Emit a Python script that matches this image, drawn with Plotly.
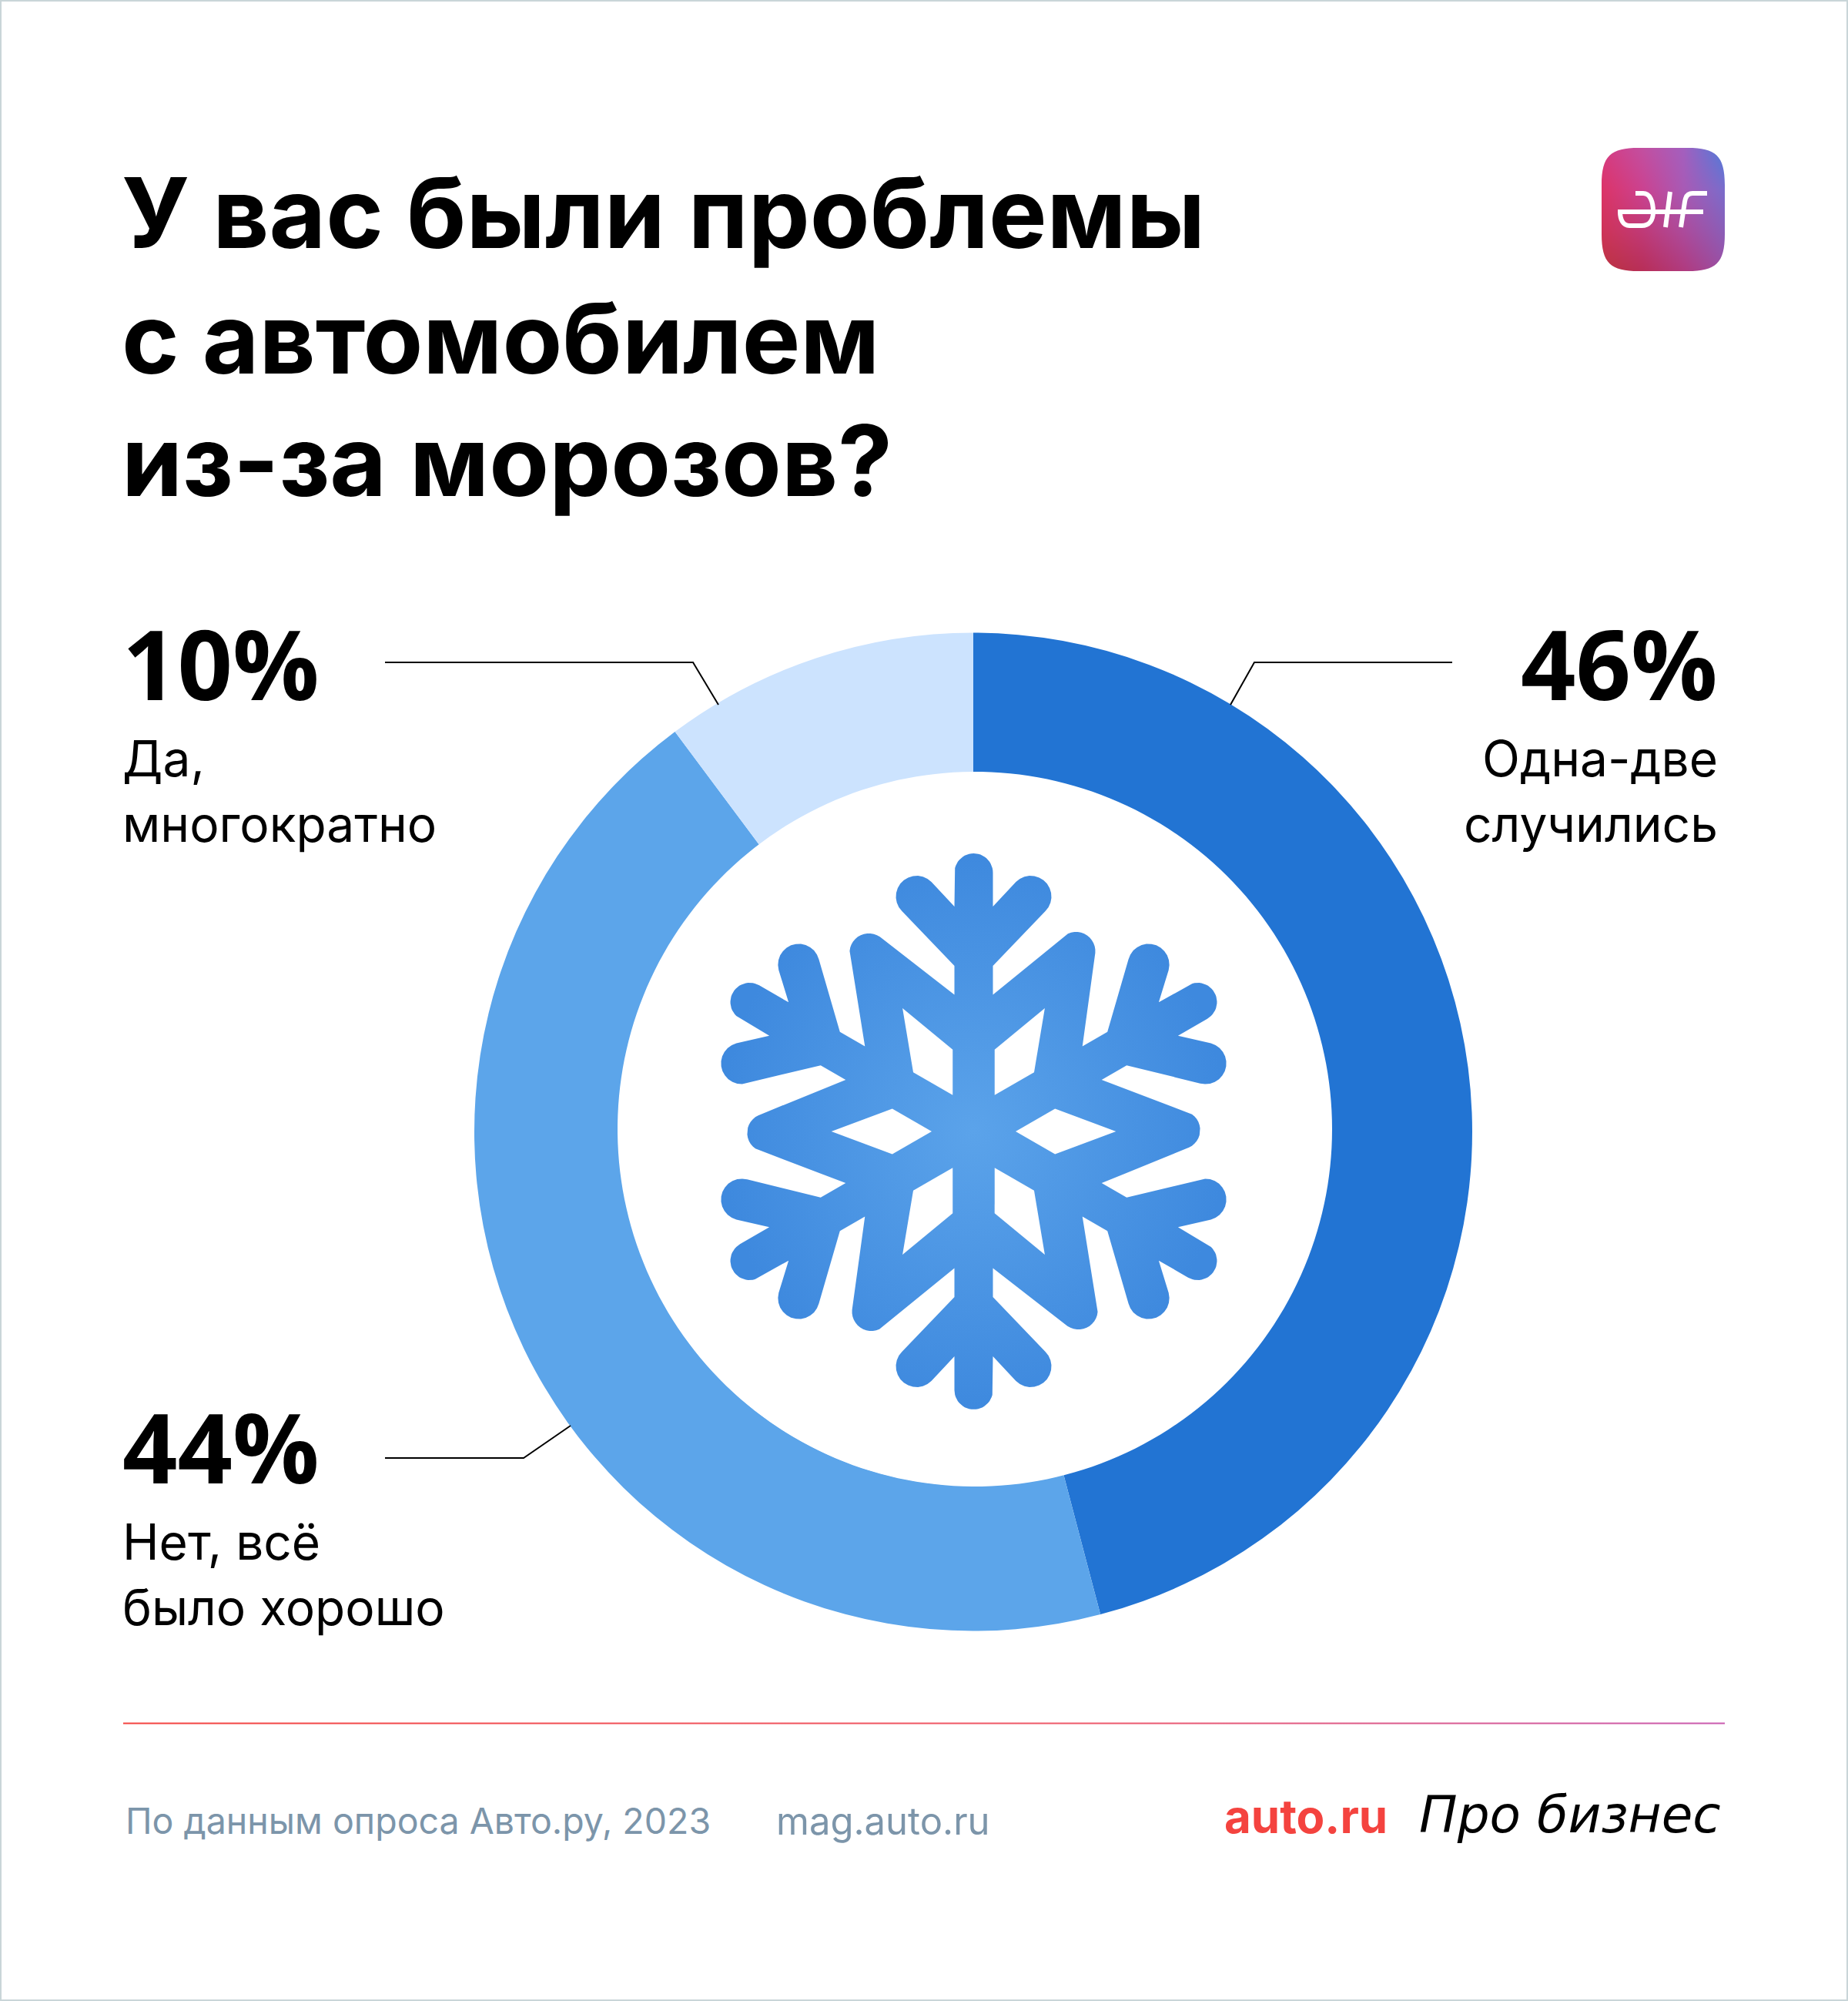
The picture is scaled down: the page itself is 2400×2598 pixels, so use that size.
import numpy as np
import plotly.graph_objects as go

# survey data
categories = ["Одна-две случились", "Нет, всё было хорошо", "Да, многократно"]
values = [45.9, 43.9, 10.2]
percent_labels = ["46%", "44%", "10%"]
ring_colors = ["#2274D3", "#5CA5EA", "#CCE3FE"]

title_lines = ["У вас были проблемы", "с автомобилем", "из-за морозов?"]
title_y = [276, 439, 598]
footer_source = "По данным опроса Авто.ру, 2023"
footer_site = "mag.auto.ru"

# logo colours, top row first
logo_colors = [["#D63B82", "#C24FA0", "#A35FBE", "#4E7BDA"],
               ["#DC3468", "#CB4290", "#A85AB5", "#7A6CCB"],
               ["#CF3358", "#C03A78", "#AC4B9C", "#8A5EB8"],
               ["#BB3340", "#B82E58", "#B03A7E", "#9A4FA4"]]

W, H = 2400, 2598
CX, CY = 1264, 1469.5
R_OUT = 648
R_HOLE = 459.7

fig = go.Figure()

# logo gradient, corners get masked below
grid = np.array([[[int(c[i:i + 2], 16) for i in (1, 3, 5)] for c in row] for row in logo_colors], dtype=float)
u = np.linspace(0, 3, 160)
iu = np.minimum(u.astype(int), 2)
fu = (u - iu)[:, None, None]
tmp = grid[iu] * (1 - fu) + grid[iu + 1] * fu
fv = (u - iu)[None, :, None]
logo_rgb = (tmp[:, iu] * (1 - fv) + tmp[:, iu + 1] * fv).round().astype(np.uint8)
fig.add_trace(go.Image(z=logo_rgb, x0=2080.5, y0=192.5, dx=1, dy=1, hoverinfo="skip"))


def arc(cx, cy, r, a0, a1, n=14):
    a = np.radians(np.linspace(a0, a1, n))
    return list(zip(cx + r * np.cos(a), cy + r * np.sin(a)))


def rot(pts, deg):
    # clockwise rotation, y up
    t = np.radians(deg)
    return [(x * np.cos(t) + y * np.sin(t), -x * np.sin(t) + y * np.cos(t)) for x, y in pts]


# one half arm of the snowflake, the rest comes from symmetry
half_arm = arc(0, 336, 25, 90, 0) + [(25, 292)] + arc(74, 305, 27, 135, -45) + [(25, 215), (25, 177.5)]
left_arm = [(-x, y) for x, y in reversed(half_arm)]
peak = arc(133, 234, 25, 125, -5)
sector = half_arm + peak + rot(left_arm, 60)
outline = []
for k in range(6):
    outline += rot(sector, 60 * k)
outline.append(outline[0])
fig.add_trace(go.Scatter(x=[1264.5 + p[0] for p in outline], y=[1469 - p[1] for p in outline],
                         mode="lines", line=dict(width=0), fill="toself",
                         fillgradient=dict(type="radial", colorscale=[[0, "#5BA3EA"], [1, "#3E89DE"]]),
                         hoverinfo="skip"))

kite = [(54.5, 0), (105.7, 29.6), (184.8, 0), (105.7, -29.6), (54.5, 0)]
for k in range(6):
    hole = rot(kite, 60 * k)
    fig.add_trace(go.Scatter(x=[1264.5 + p[0] for p in hole], y=[1469 - p[1] for p in hole],
                             mode="lines", line=dict(width=0), fill="toself",
                             fillcolor="white", hoverinfo="skip"))

# divider with gradient
fig.add_trace(go.Scatter(x=[160, 2240, 2240, 160, 160], y=[2236.5, 2236.5, 2238.5, 2238.5, 2236.5],
                         mode="lines", line=dict(width=0), fill="toself",
                         fillgradient=dict(type="horizontal",
                                           colorscale=[[0, "#F4433F"], [0.6, "#EE5A6A"], [1, "#C95CB0"]]),
                         hoverinfo="skip"))

# the ring
fig.add_trace(go.Pie(labels=categories, values=values, sort=False, direction="clockwise", rotation=0,
                     hole=R_HOLE / R_OUT, marker=dict(colors=ring_colors, line=dict(width=0)),
                     textinfo="none", hoverinfo="skip",
                     domain=dict(x=[(CX - R_OUT) / W, (CX + R_OUT) / W],
                                 y=[1 - (CY + R_OUT) / H, 1 - (CY - R_OUT) / H])))


def circle_path(cx, cy, r):
    pts = arc(cx, cy, r, 0, 360, 240)
    return "M" + " L".join(f"{x:.2f},{y:.2f}" for x, y in pts) + " Z"


shapes = [
    dict(type="rect", x0=1, y0=1, x1=W - 1, y1=H - 1, line=dict(color="#C9D5D8", width=2), layer="above"),
    # the hole of the ring sits a little off centre in the picture
    dict(type="path", path=circle_path(1266, 1466, 464) + " " + circle_path(CX, CY, R_HOLE - 3),
         fillcolor="white", line=dict(width=0), layer="above"),
    # logo corners
    dict(type="path", path="M2074,186 H2246 V358 H2074 Z M2080,240 C2080,202 2092,192 2128,192 L2192,192 "
                           "C2228,192 2240,202 2240,240 L2240,304 C2240,342 2228,352 2192,352 L2128,352 "
                           "C2092,352 2080,342 2080,304 Z",
         fillcolor="white", line=dict(width=0), layer="above"),
    # logo glyphs
    dict(type="path", path="M2124,251 L2134,251 C2143,251 2147,262 2147,275 C2147,286 2142,293 2132,293 "
                           "L2116,293 C2108,293 2104,285 2104,275 L2212,275",
         line=dict(color="white", width=6), layer="above"),
    dict(type="path", path="M2163,295 L2169,249", line=dict(color="white", width=6), layer="above"),
    dict(type="path", path="M2183,295 L2188,262 C2189,255 2192,251 2198,251 L2217,251",
         line=dict(color="white", width=6), layer="above"),
    # leader lines
    dict(type="path", path="M500,860 L900,860 L933,915", line=dict(color="#000", width=2), layer="above"),
    dict(type="path", path="M1886,860 L1629,860 L1598,915", line=dict(color="#000", width=2), layer="above"),
    dict(type="path", path="M500,1893 L680,1893 L741,1851", line=dict(color="#000", width=2), layer="above"),
]


def label(text, x, y, size, anchor="left", color="#000", weight=400, family="Inter", style="normal"):
    return dict(text=text, x=x, y=y, xref="x", yref="y", xanchor=anchor, yanchor="middle",
                showarrow=False, align=anchor,
                font=dict(family=family, size=size, color=color, weight=weight, style=style))


notes = []
for line, y in zip(title_lines, title_y):
    notes.append(label(line, 156, y, 127, weight=700))

notes += [
    label(percent_labels[2], 157, 860, 125, weight=700, family="Open Sans"),
    label("Да,", 157, 984, 64),
    label("многократно", 157, 1069, 64),
    label(percent_labels[0], 2233, 860, 125, "right", weight=700, family="Open Sans"),
    label("Одна-две", 2233, 984, 64, "right"),
    label("случились", 2233, 1069, 64, "right"),
    label(percent_labels[1], 157, 1877, 125, weight=700, family="Open Sans"),
    label("Нет, всё", 157, 2001, 64),
    label("было хорошо", 157, 2086, 64),
    label(footer_source, 161, 2364, 46.5, color="#7C95AA"),
    label(footer_site, 1006, 2364, 49, color="#7C95AA"),
    label("auto.ru", 1588, 2358, 60, color="#F4433F", weight=700),
    label("Про бизнес", 1841, 2356, 66, family="DejaVu Sans", style="italic"),
]

fig.update_layout(width=W, height=H, margin=dict(l=0, r=0, t=0, b=0), showlegend=False,
                  paper_bgcolor="white", plot_bgcolor="white", shapes=shapes, annotations=notes,
                  xaxis=dict(range=[0, W], visible=False, fixedrange=True),
                  yaxis=dict(range=[H, 0], visible=False, fixedrange=True))

fig.write_html("out.html", config={"displayModeBar": False},
               post_script="document.body.style.margin='0';")
